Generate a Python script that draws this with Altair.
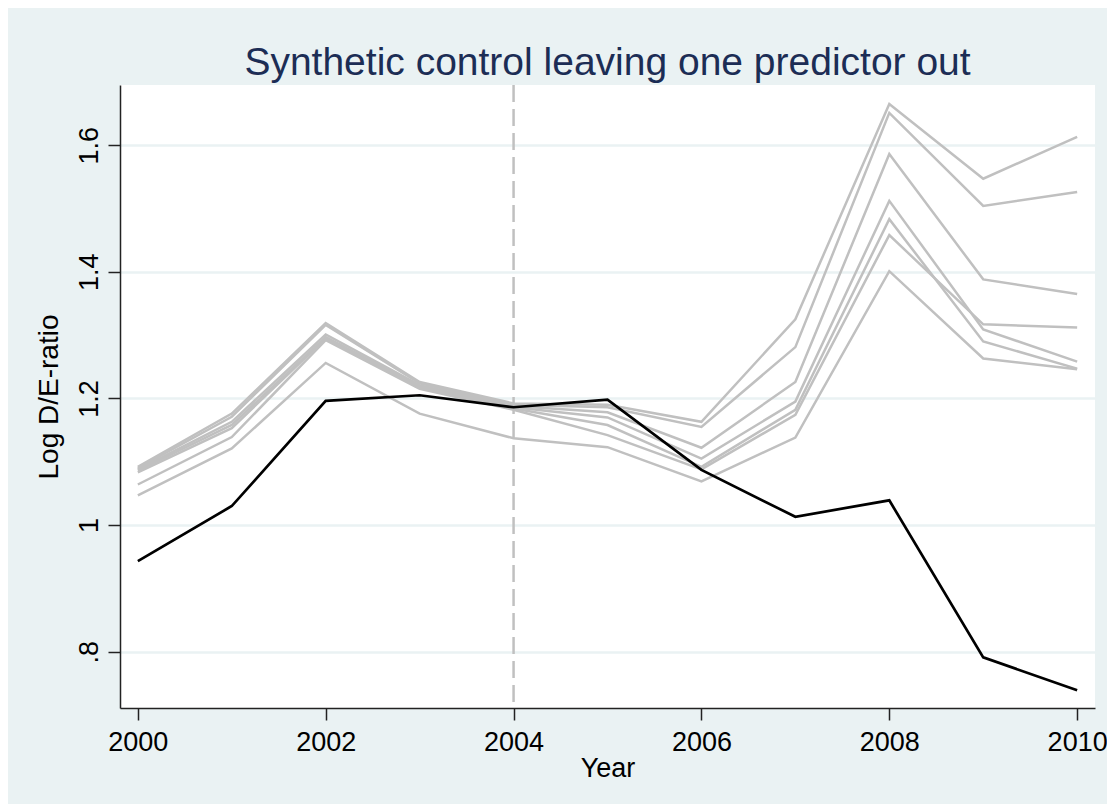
import altair as alt
import pandas as pd

years = [2000, 2001, 2002, 2003, 2004, 2005, 2006, 2007, 2008, 2009, 2010]

treated = [0.943, 1.030, 1.196, 1.205, 1.186, 1.198, 1.087, 1.013, 1.039, 0.791, 0.739]

synth_1 = [1.092, 1.176, 1.319, 1.226, 1.192, 1.190, 1.163, 1.325, 1.665, 1.547, 1.613]
synth_2 = [1.090, 1.171, 1.316, 1.224, 1.190, 1.186, 1.155, 1.281, 1.651, 1.504, 1.526]
synth_3 = [1.088, 1.163, 1.301, 1.221, 1.188, 1.178, 1.122, 1.226, 1.586, 1.388, 1.365]
synth_4 = [1.086, 1.158, 1.297, 1.219, 1.186, 1.170, 1.105, 1.195, 1.512, 1.309, 1.258]
synth_5 = [1.083, 1.153, 1.295, 1.217, 1.184, 1.158, 1.092, 1.182, 1.483, 1.290, 1.247]
synth_6 = [1.064, 1.139, 1.292, 1.215, 1.182, 1.142, 1.088, 1.174, 1.458, 1.317, 1.312]
synth_7 = [1.047, 1.121, 1.256, 1.176, 1.137, 1.123, 1.069, 1.138, 1.401, 1.263, 1.246]

synth = [synth_1, synth_2, synth_3, synth_4, synth_5, synth_6, synth_7]

x_ticks = [2000, 2002, 2004, 2006, 2008, 2010]
y_ticks = [0.8, 1.0, 1.2, 1.4, 1.6]
treatment_year = [2004]

rows = []
for i, s in enumerate(synth):
    for y, v in zip(years, s):
        rows.append({"year": y, "value": v, "series": f"s{i+1}"})
gray_df = pd.DataFrame(rows)
black_df = pd.DataFrame({"year": years, "value": treated})
rule_df = pd.DataFrame({"year": treatment_year})

FONT = "Liberation Sans"

xscale = alt.Scale(domain=[1999.81, 2010.19], nice=False, zero=False)
yscale = alt.Scale(domain=[0.711, 1.695], nice=False, zero=False)

xaxis = alt.Axis(values=x_ticks, format="d", title="Year", grid=False,
                 labelFontSize=27, titleFontSize=27, labelFont=FONT, titleFont=FONT,
                 labelColor="black", titleColor="black", titleFontWeight="normal",
                 tickSize=12, tickColor="#222", domainColor="#222", domainWidth=1.5, tickWidth=1.5,
                 labelPadding=9, titlePadding=0, labelFlush=False, labelOverlap=False)
yaxis = alt.Axis(values=y_ticks, title="Log D/E-ratio", grid=True, gridColor="#eaf2f3", gridWidth=2.5,
                 labelExpr="replace(format(datum.value, '.1~f'), '0.', '.')",
                 labelAngle=-90, labelFontSize=27, titleFontSize=28, labelFont=FONT, titleFont=FONT,
                 labelColor="black", titleColor="black", titleFontWeight="normal",
                 tickSize=12, tickColor="#222", domainColor="#222", domainWidth=1.5, tickWidth=1.5,
                 labelPadding=5, titlePadding=12, labelFlush=False, labelOverlap=False)

rule = alt.Chart(rule_df).mark_rule(color="#c0c0c0", strokeWidth=2.5, strokeDash=[17, 7]).encode(
    x=alt.X("year:Q", scale=xscale, axis=xaxis)
)

gray = alt.Chart(gray_df).mark_line(color="#c0c0c0", strokeWidth=2.5).encode(
    x=alt.X("year:Q", scale=xscale, axis=xaxis),
    y=alt.Y("value:Q", scale=yscale, axis=yaxis),
    detail="series:N",
)

black = alt.Chart(black_df).mark_line(color="black", strokeWidth=2.7).encode(
    x=alt.X("year:Q", scale=xscale, axis=xaxis),
    y=alt.Y("value:Q", scale=yscale, axis=yaxis),
)

chart = alt.layer(rule, gray, black).properties(
    width=975, height=623,
    title=alt.TitleParams("Synthetic control leaving one predictor out", font=FONT, fontSize=39,
                          fontWeight="normal", color="#1c2d55", anchor="middle", offset=1),
    autosize=alt.AutoSizeParams(type="none"),
    padding={"left": 112, "top": 77, "right": 12, "bottom": 96},
    background="#eaf2f3",
).configure_view(fill="white", stroke=None)

chart.save("out.html", embed_options={"renderer": "svg", "actions": False})
